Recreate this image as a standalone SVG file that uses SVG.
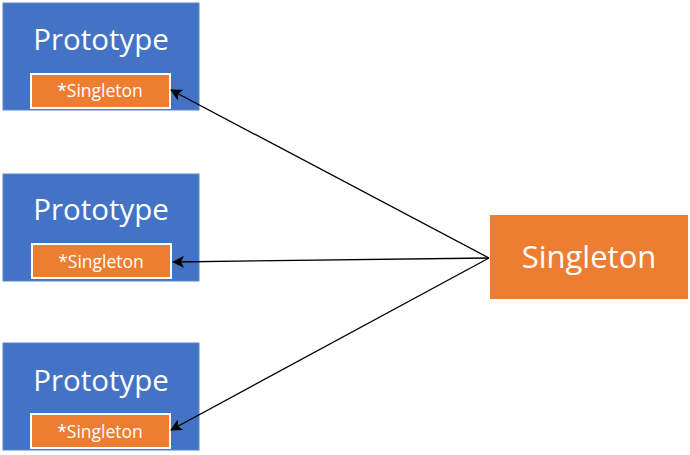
<svg xmlns="http://www.w3.org/2000/svg" width="690" height="455" viewBox="0 0 690 455">
<style>
.proto{fill:#4472C4;stroke:#5b86d0;stroke-width:1}
.inner{fill:#ED7D31;stroke:#ffffff;stroke-width:2}
.big{font-family:"Open Sans","Noto Sans",sans-serif;font-size:29.5px;fill:#ffffff;text-anchor:middle}
.small{font-family:"Open Sans","Noto Sans",sans-serif;font-size:17.5px;fill:#ffffff;text-anchor:middle}
.conn{stroke:#000;stroke-width:1.3;fill:none;marker-end:url(#arr)}
</style>
<defs>
<marker id="arr" viewBox="0 0 12 12" refX="11" refY="6" markerWidth="12" markerHeight="12" markerUnits="userSpaceOnUse" orient="auto">
<path d="M0,0 L12,6 L0,12 L3,6 Z" fill="#000"/>
</marker>
</defs>
<rect width="690" height="455" fill="#ffffff"/>
<g id="proto1">
<rect class="proto" x="3" y="3" width="196" height="107"/>
<rect class="inner" x="31" y="74" width="139" height="34"/>
<text class="big" x="101" y="50">Prototype</text>
<text class="small" x="100" y="97">*Singleton</text>
</g>
<g id="proto2">
<rect class="proto" x="3" y="174" width="196" height="107"/>
<rect class="inner" x="32" y="244" width="139" height="34"/>
<text class="big" x="101" y="220">Prototype</text>
<text class="small" x="101" y="268">*Singleton</text>
</g>
<g id="proto3">
<rect class="proto" x="3" y="343" width="196" height="107"/>
<rect class="inner" x="31" y="414" width="139" height="34"/>
<text class="big" x="101" y="391">Prototype</text>
<text class="small" x="100" y="438">*Singleton</text>
</g>
<g id="singleton">
<rect x="490" y="215" width="198" height="84" fill="#ED7D31"/>
<text class="big" x="589" y="268" style="font-size:31px">Singleton</text>
</g>
<g id="connectors">
<line class="conn" x1="489" y1="258" x2="171" y2="90"/>
<line class="conn" x1="489" y1="258" x2="173" y2="262"/>
<line class="conn" x1="489" y1="258" x2="171" y2="430"/>
</g>
</svg>
